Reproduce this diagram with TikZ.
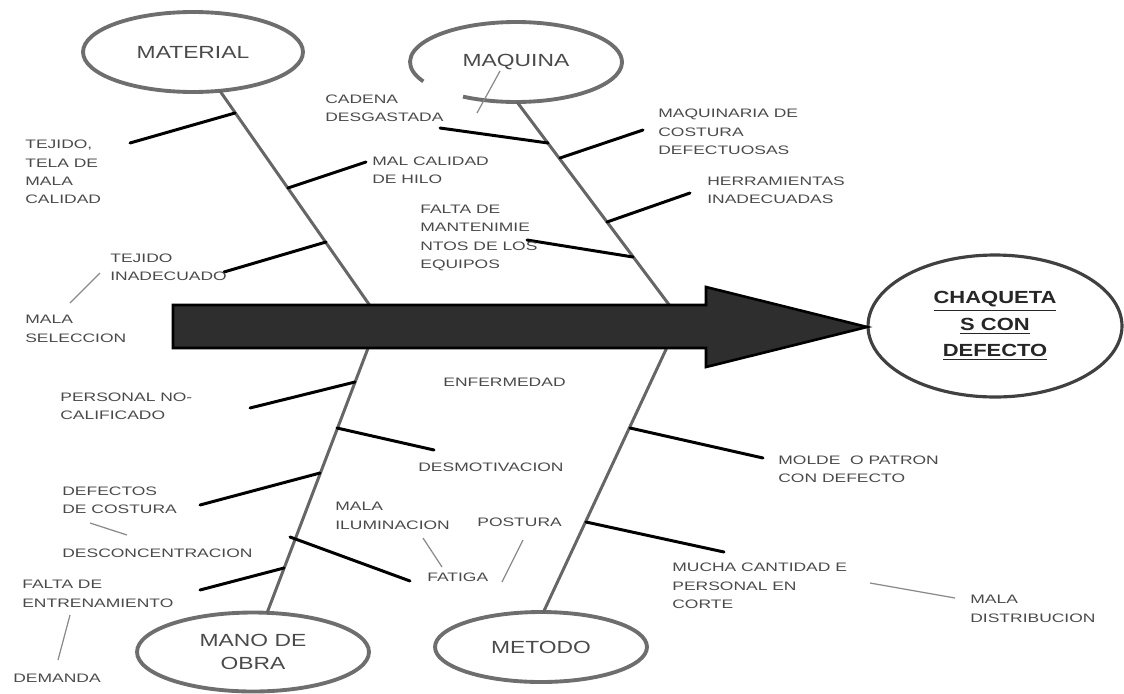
\documentclass[tikz,border=0pt]{standalone}
\usepackage{fontspec}
\usetikzlibrary{shapes.geometric}
\newfontfamily\labfont[FakeStretch=1.42]{Liberation Sans}
\newfontfamily\capfont[FakeStretch=1.3]{Liberation Sans}
\newfontfamily\effectfont[FakeStretch=1.25]{Liberation Sans}
\definecolor{inkgray}{HTML}{4A4A4A}
\definecolor{ringgray}{HTML}{6E6E6E}
\definecolor{bonegray}{HTML}{666666}
\definecolor{hairgray}{HTML}{8A8A8A}
\definecolor{shaftfill}{HTML}{2E2E2E}
\begin{document}
\begin{tikzpicture}[x=0.02cm,y=-0.02cm,
  lbl/.style={font=\labfont\fontsize{7pt}{10.5pt}\selectfont, text=inkgray,
              align=left, inner sep=0pt, anchor=west},
  cause/.style={ellipse, draw=ringgray, line width=2.2pt, inner sep=0pt,
              font=\capfont\fontsize{10pt}{13pt}\selectfont, text=inkgray, align=center},
  ring/.style={draw=ringgray, line width=2.2pt},
  bone/.style={draw=bonegray, line width=1.7pt},
  twig/.style={draw=black, line width=1.7pt, line cap=round},
  hair/.style={draw=hairgray, line width=0.7pt}]
\useasboundingbox (0,0) rectangle (1124,693);

% category ellipses
\node[cause, minimum width=4.4cm, minimum height=1.6cm] (mat) at (193,52) {MATERIAL};
\node[cause, draw=none, minimum width=4.24cm, minimum height=1.6cm] (maq) at (516,62) {MAQUINA};
\draw[ring] ([shift={(240:2.12cm and 0.8cm)}]maq.center)
  arc[start angle=240, end angle=569, x radius=2.12cm, y radius=0.8cm];
\node[cause, minimum width=4.64cm, minimum height=1.58cm] (mano) at (253,652) {MANO DE\\OBRA};
\node[cause, minimum width=4.24cm, minimum height=1.4cm] (met) at (541,647) {METODO};

% effect
\node[ellipse, draw=black!75, line width=1.8pt, minimum width=5.08cm, minimum height=2.84cm,
      inner sep=0pt, align=center, text=black!85,
      font=\effectfont\bfseries\fontsize{10pt}{15pt}\selectfont] (eff) at (995,326)
  {\underline{CHAQUETA}\\\underline{S CON}\\\underline{DEFECTO}};

% main bones
\coordinate (matA) at (220,91);  \coordinate (matB) at (373,310);
\coordinate (maqA) at (517,102); \coordinate (maqB) at (673,310);
\coordinate (manA) at (370,343); \coordinate (manB) at (267,613);
\coordinate (metA) at (669,343); \coordinate (metB) at (543,613);
\draw[bone] (matA) -- (matB);
\draw[bone] (maqA) -- (maqB);
\draw[bone] (manA) -- (manB);
\draw[bone] (metA) -- (metB);

% central arrow
\coordinate (s1) at (173,305); \coordinate (s2) at (706,305); \coordinate (s3) at (706,287);
\coordinate (s4) at (867,327); \coordinate (s5) at (706,367); \coordinate (s6) at (706,348);
\coordinate (s7) at (173,348);
\filldraw[fill=shaftfill, draw=black, line width=1.5pt, line join=miter]
  (s1) -- (s2) -- (s3) -- (s4) -- (s5) -- (s6) -- (s7) -- cycle;

% cause twigs
\foreach \n/\a/\b in {
  1/{130,143}/{235,113}, 2/{288,188}/{366,162}, 3/{224,272}/{326,242},
  4/{440,128}/{548,143}, 5/{560,158}/{643,130}, 6/{607,222}/{690,193},
  7/{527,240}/{633,257}, 8/{250,408}/{355,382}, 9/{337,428}/{434,450},
  10/{200,505}/{320,473}, 11/{290,537}/{410,581}, 12/{200,590}/{284,568},
  13/{630,428}/{763,458}, 14/{586,522}/{724,552}}{
  \coordinate (t\n a) at (\a); \coordinate (t\n b) at (\b);
  \draw[twig] (t\n a) -- (t\n b);
}

% thin sub-cause leaders
\foreach \n/\a/\b in {
  1/{100,273}/{70,303}, 2/{90,523}/{127,535}, 3/{70,615}/{58,660},
  4/{423,538}/{442,567}, 5/{523,540}/{502,582}, 6/{870,583}/{955,598},
  7/{500,71}/{477,113}}{
  \coordinate (h\n a) at (\a); \coordinate (h\n b) at (\b);
  \draw[hair] (h\n a) -- (h\n b);
}

% labels
\node[lbl] (tela) at (25,172) {TEJIDO,\\TELA DE\\MALA\\CALIDAD};
\node[lbl] (cadena) at (325,108) {CADENA\\DESGASTADA};
\node[lbl] (maqcost) at (658,132) {MAQUINARIA DE\\COSTURA\\DEFECTUOSAS};
\node[lbl] (hilo) at (372,170) {MAL CALIDAD\\DE HILO};
\node[lbl] (herr) at (707,190) {HERRAMIENTAS\\INADECUADAS};
\node[lbl] (mant) at (420,238) {FALTA DE\\MANTENIMIE\\NTOS DE LOS\\EQUIPOS};
\node[lbl] (tejido) at (110,267) {TEJIDO\\INADECUADO};
\node[lbl] (selec) at (25,329) {MALA\\SELECCION};
\node[lbl] (personal) at (60,406) {PERSONAL NO-\\CALIFICADO};
\node[lbl] (enferm) at (443,382) {ENFERMEDAD};
\node[lbl] (desmot) at (418,467) {DESMOTIVACION};
\node[lbl] (defcost) at (62,500) {DEFECTOS\\DE COSTURA};
\node[lbl] (descon) at (62,553) {DESCONCENTRACION};
\node[lbl] (entren) at (22,594) {FALTA DE\\ENTRENAMIENTO};
\node[lbl] (demanda) at (13,678) {DEMANDA};
\node[lbl] (ilum) at (335,516) {MALA\\ILUMINACION};
\node[lbl] (postura) at (477,522) {POSTURA};
\node[lbl] (fatiga) at (427,577) {FATIGA};
\node[lbl] (molde) at (778,469) {MOLDE\ \ O PATRON\\CON DEFECTO};
\node[lbl] (mucha) at (672,586) {MUCHA CANTIDAD E\\PERSONAL EN\\CORTE};
\node[lbl] (distrib) at (970,609) {MALA\\DISTRIBUCION};
\end{tikzpicture}
\end{document}
